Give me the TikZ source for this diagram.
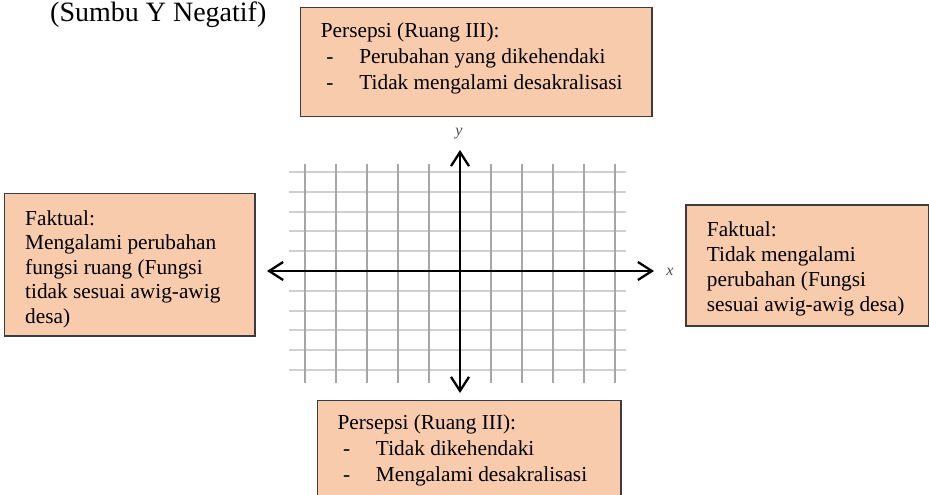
\documentclass[tikz,border=0pt]{standalone}
\usepackage{fontspec}
\setmainfont{Liberation Serif}
\usetikzlibrary{arrows.meta}
\definecolor{peach}{HTML}{F8CBAD}
\definecolor{boxline}{HTML}{3C3C3C}
\definecolor{vgrid}{HTML}{A6A6A6}
\definecolor{hgrid}{HTML}{D0D0D0}
\newcommand{\dashitem}[1]{\hspace*{5.5pt}\makebox[33pt][l]{-}#1}
\begin{document}
\begin{tikzpicture}[x=1pt,y=-1pt,
  box/.style={draw=boxline, line width=1.4pt, fill=peach, rectangle,
    inner sep=0pt, outer sep=0pt, anchor=north west},
  boxtext/.style={anchor=base west, inner sep=0pt},
  vline/.style={draw=vgrid, line width=2.3pt},
  hline/.style={draw=hgrid, line width=2.1pt},
  barb/.tip={Straight Barb[length=14pt,width=18pt,line width=2.3pt]},
  axis/.style={line width=2.3pt, draw=black, barb-barb},
  axlabel/.style={font=\fontsize{16}{16}\selectfont\itshape, text=black!70, inner sep=0pt}
]
\useasboundingbox (0,0) rectangle (929,495);
\clip (0,0) rectangle (929,495);

% heading
\node[anchor=base west, inner sep=0pt, font=\fontsize{28}{28}\selectfont]
  (sumbu) at (50,21.5) {(Sumbu Y Negatif)};

% grid
\foreach \k in {-5,...,5}
  \draw[hline] (289,{271+19.8*\k}) -- (626,{271+19.8*\k});
\foreach \k in {-5,-4,-3,-2,-1,1,2,3,4,5}
  \draw[vline] ({460+31*\k},164) -- ({460+31*\k},383);

% axes
\coordinate (xw) at (267,271);
\coordinate (xe) at (654,271);
\coordinate (yn) at (460,150);
\coordinate (ys) at (460,393);
\draw[axis] (xw) -- (xe);
\draw[axis] (yn) -- (ys);
\node[axlabel] (xlab) at (670,272) {x};
\node[axlabel] (ylab) at (459,134) {y};

% top box
\node[box, minimum width=351.3pt, minimum height=109.4pt] (persepsiA) at (300.7,7.3) {};
\node[boxtext, font=\fontsize{21.3}{26}\selectfont] (persepsiAtext) at (320.7,37.5)
  {\parbox[t]{320pt}{\raggedright Persepsi (Ruang III):\\
   \dashitem{Perubahan yang dikehendaki}\\
   \dashitem{Tidak mengalami desakralisasi}}};

% left box
\node[box, minimum width=250.3pt, minimum height=142.7pt] (faktualA) at (4.7,193.3) {};
\node[boxtext, font=\fontsize{21.3}{24.6}\selectfont] (faktualAtext) at (25,225)
  {\parbox[t]{225pt}{\raggedright Faktual:\\
   Mengalami perubahan\\
   fungsi ruang (Fungsi\\
   tidak sesuai awig-awig\\
   desa)}};

% right box
\node[box, minimum width=242.3pt, minimum height=121pt] (faktualB) at (686,205) {};
\node[boxtext, font=\fontsize{21.3}{25}\selectfont] (faktualBtext) at (706.7,236.7)
  {\parbox[t]{225pt}{\raggedright Faktual:\\
   Tidak mengalami\\
   perubahan (Fungsi\\
   sesuai awig-awig desa)}};

% bottom box
\node[box, minimum width=303.3pt, minimum height=110pt] (persepsiB) at (317.7,400.7) {};
\node[boxtext, font=\fontsize{21.3}{26.3}\selectfont] (persepsiBtext) at (337.3,429)
  {\parbox[t]{280pt}{\raggedright Persepsi (Ruang III):\\
   \dashitem{Tidak dikehendaki}\\
   \dashitem{Mengalami desakralisasi}}};
\end{tikzpicture}
\end{document}
